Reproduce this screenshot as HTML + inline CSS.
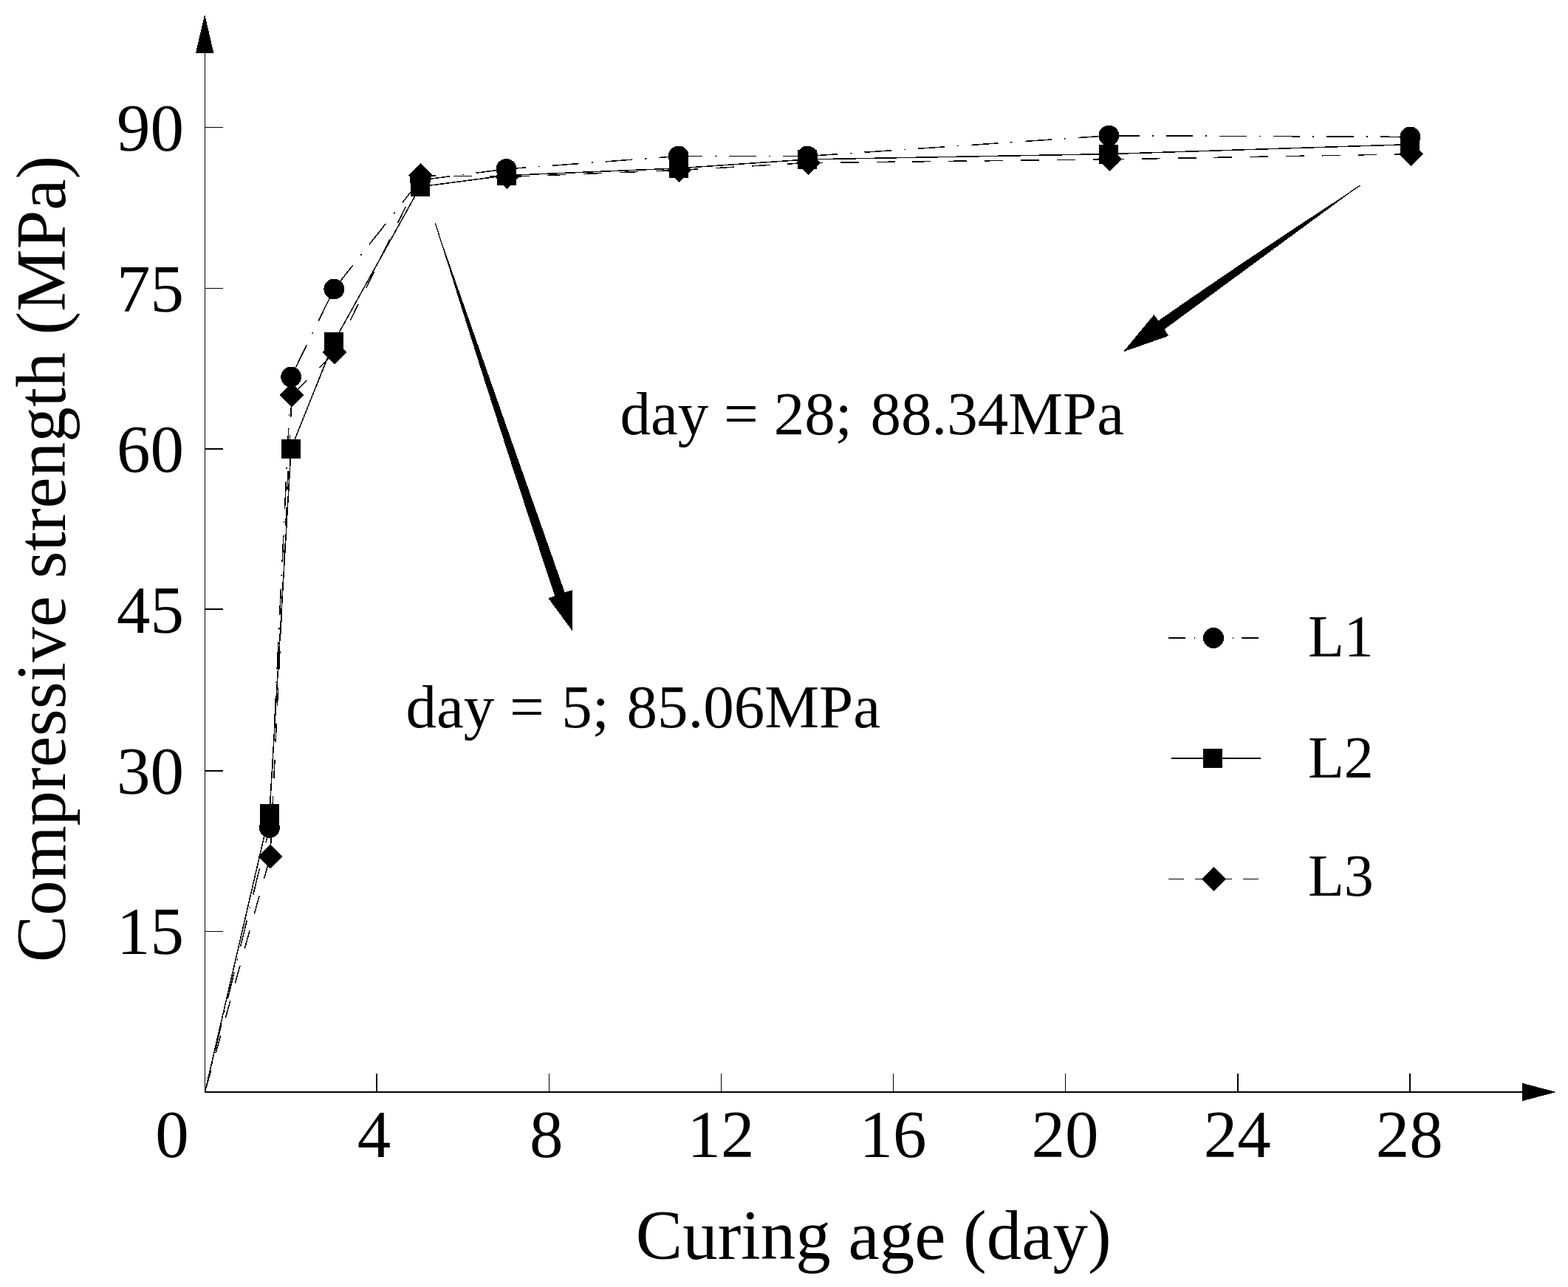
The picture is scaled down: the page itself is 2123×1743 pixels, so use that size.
<!DOCTYPE html>
<html lang="en"><head><meta charset="utf-8"><title>Compressive strength vs curing age</title>
<style>
html,body{margin:0;padding:0;background:#fff;}
body{width:2123px;height:1743px;overflow:hidden;}
svg{display:block;}
text{font-family:"Liberation Serif", "DejaVu Serif", serif;fill:#000;}
.tick{font-size:91px;}
.title{font-size:95px;}
.ann{font-size:83px;}
.leg{font-size:80px;}
.ln{fill:none;stroke:#000;stroke-width:1.55;}
.ax{stroke:#000;fill:none;}
</style></head><body>
<svg width="2123" height="1743" viewBox="0 0 2123 1743" shape-rendering="crispEdges">
<rect x="0" y="0" width="2123" height="1743" fill="#fff"/>
<g id="axes" fill="#000">
<rect x="277" y="72" width="1" height="1408"/>
<rect x="277" y="1478" width="1785" height="2"/>
<polygon points="277.2,19.3 265,72 289.4,72"/>
<polygon points="2107,1479 2061,1466.8 2061,1491.2"/>
<rect x="278" y="172" width="24" height="1"/>
<rect x="278" y="390" width="24" height="1"/>
<rect x="278" y="607" width="24" height="2"/>
<rect x="278" y="824" width="24" height="2"/>
<rect x="278" y="1043" width="24" height="2"/>
<rect x="278" y="1261" width="24" height="1"/>
<rect x="509" y="1454" width="2" height="24"/>
<rect x="743" y="1454" width="1" height="24"/>
<rect x="976" y="1454" width="1" height="24"/>
<rect x="1209" y="1454" width="1" height="24"/>
<rect x="1442" y="1454" width="1" height="24"/>
<rect x="1675" y="1454" width="2" height="24"/>
<rect x="1908" y="1454" width="2" height="24"/>
</g>
<g id="ticklabels" class="tick">
<text x="249" y="1292.3" text-anchor="end">15</text>
<text x="249" y="1074.6" text-anchor="end">30</text>
<text x="249" y="856.9" text-anchor="end">45</text>
<text x="249" y="639.2" text-anchor="end">60</text>
<text x="249" y="421.5" text-anchor="end">75</text>
<text x="249" y="203.8" text-anchor="end">90</text>
<text x="233" y="1566.5" text-anchor="middle">0</text>
<text x="506.6" y="1566.5" text-anchor="middle">4</text>
<text x="739.7" y="1566.5" text-anchor="middle">8</text>
<text x="975.9" y="1566.5" text-anchor="middle">12</text>
<text x="1209.0" y="1566.5" text-anchor="middle">16</text>
<text x="1442.1" y="1566.5" text-anchor="middle">20</text>
<text x="1675.2" y="1566.5" text-anchor="middle">24</text>
<text x="1908.3" y="1566.5" text-anchor="middle">28</text>
</g>
<g id="titles" class="title">
<text x="1182.7" y="1705" text-anchor="middle">Curing age (day)</text>
<text transform="translate(87.6,757) rotate(-90)" text-anchor="middle">Compressive strength (MPa)</text>
</g>
<g id="series">
<line class="ln" x1="277.5" y1="1479.0" x2="364.9" y2="1121.0" stroke-dasharray="36.4 17 2.3 16.8" stroke-dashoffset="14.6"/>
<line class="ln" x1="394.1" y1="510.5" x2="364.9" y2="1121.0" stroke-dasharray="36.4 17 2.3 16.8" stroke-dashoffset="3.1"/>
<line class="ln" x1="394.1" y1="510.5" x2="452.3" y2="391.5" stroke-dasharray="36.4 17 2.3 16.8" stroke-dashoffset="-11.8"/>
<line class="ln" x1="452.3" y1="391.5" x2="568.9" y2="244.0" stroke-dasharray="36.4 17 2.3 16.8" stroke-dashoffset="-4.4"/>
<line class="ln" x1="568.9" y1="244.0" x2="685.5" y2="228.9" stroke-dasharray="36.4 17 2.3 16.8" stroke-dashoffset="-3.8"/>
<line class="ln" x1="685.5" y1="228.9" x2="918.6" y2="211.5" stroke-dasharray="36.4 17 2.3 16.8" stroke-dashoffset="10.1"/>
<line class="ln" x1="918.6" y1="211.5" x2="1093.4" y2="211.5" stroke-dasharray="36.4 17 2.3 16.8" stroke-dashoffset="3.7"/>
<line class="ln" x1="1093.4" y1="211.5" x2="1501.4" y2="183.7" stroke-dasharray="36.4 17 2.3 16.8" stroke-dashoffset="-4.8"/>
<line class="ln" x1="1501.4" y1="183.7" x2="1909.3" y2="185.4" stroke-dasharray="36.4 17 2.3 16.8" stroke-dashoffset="-4.9"/>
<polyline class="ln" points="277.5,1479.0 364.9,1101.7 394.1,607.7 452.3,462.6 568.9,252.9 685.5,237.6 918.6,227.9 1093.4,215.9 1501.4,208.6 1909.3,195.6"/>
<line class="ln" x1="277.5" y1="1479.0" x2="365.9" y2="1159.8" stroke-dasharray="25 23.9" stroke-dashoffset="-6.0"/>
<line class="ln" x1="395.1" y1="535.2" x2="365.9" y2="1159.8" stroke-dasharray="25 23.9" stroke-dashoffset="-5.3"/>
<line class="ln" x1="395.1" y1="535.2" x2="453.3" y2="477.1" stroke-dasharray="25 23.9" stroke-dashoffset="-3.7"/>
<line class="ln" x1="453.3" y1="477.1" x2="569.9" y2="237.6" stroke-dasharray="25 23.9" stroke-dashoffset="1.3"/>
<line class="ln" x1="569.9" y1="237.6" x2="686.5" y2="239.5" stroke-dasharray="25 23.9" stroke-dashoffset="4.5"/>
<line class="ln" x1="686.5" y1="239.5" x2="919.6" y2="230.4" stroke-dasharray="25 23.9" stroke-dashoffset="-5.7"/>
<line class="ln" x1="919.6" y1="230.4" x2="1094.4" y2="220.5" stroke-dasharray="25 23.9" stroke-dashoffset="-0.3"/>
<line class="ln" x1="1094.4" y1="220.5" x2="1502.4" y2="215.9" stroke-dasharray="25 23.9" stroke-dashoffset="5.6"/>
<line class="ln" x1="1502.4" y1="215.9" x2="1910.3" y2="208.6" stroke-dasharray="25 23.9" stroke-dashoffset="5.6"/>
<circle cx="364.9" cy="1121.0" r="13.9" fill="#000"/>
<circle cx="394.1" cy="510.5" r="13.9" fill="#000"/>
<circle cx="452.3" cy="391.5" r="13.9" fill="#000"/>
<circle cx="568.9" cy="244.0" r="13.9" fill="#000"/>
<circle cx="685.5" cy="228.9" r="13.9" fill="#000"/>
<circle cx="918.6" cy="211.5" r="13.9" fill="#000"/>
<circle cx="1093.4" cy="211.5" r="13.9" fill="#000"/>
<circle cx="1501.4" cy="183.7" r="13.9" fill="#000"/>
<circle cx="1909.3" cy="185.4" r="13.9" fill="#000"/>
<rect x="351.9" y="1088.7" width="26" height="26" fill="#000"/>
<rect x="381.1" y="594.7" width="26" height="26" fill="#000"/>
<rect x="439.3" y="449.6" width="26" height="26" fill="#000"/>
<rect x="555.9" y="239.9" width="26" height="26" fill="#000"/>
<rect x="672.5" y="224.6" width="26" height="26" fill="#000"/>
<rect x="905.6" y="214.9" width="26" height="26" fill="#000"/>
<rect x="1080.4" y="202.9" width="26" height="26" fill="#000"/>
<rect x="1488.4" y="195.6" width="26" height="26" fill="#000"/>
<rect x="1896.3" y="182.6" width="26" height="26" fill="#000"/>
<polygon points="365.9,1143.3 382.4,1159.8 365.9,1176.3 349.4,1159.8" fill="#000"/>
<polygon points="395.1,518.7 411.6,535.2 395.1,551.7 378.6,535.2" fill="#000"/>
<polygon points="453.3,460.6 469.8,477.1 453.3,493.6 436.8,477.1" fill="#000"/>
<polygon points="569.9,221.1 586.4,237.6 569.9,254.1 553.4,237.6" fill="#000"/>
<polygon points="686.5,223.0 703.0,239.5 686.5,256.0 670.0,239.5" fill="#000"/>
<polygon points="919.6,213.9 936.1,230.4 919.6,246.9 903.1,230.4" fill="#000"/>
<polygon points="1094.4,204.0 1110.9,220.5 1094.4,237.0 1077.9,220.5" fill="#000"/>
<polygon points="1502.4,199.4 1518.9,215.9 1502.4,232.4 1485.9,215.9" fill="#000"/>
<polygon points="1910.3,192.1 1926.8,208.6 1910.3,225.1 1893.8,208.6" fill="#000"/>
</g>
<g id="annotations">
<path fill="#000" d="M1840.9,251.6 Q1703,340.5 1568.4,434.3 L1562.5,426.1 L1520.8,476.5 L1581.9,455 L1576.9,445.8 Z"/>
<line x1="1841.5" y1="251.2" x2="1700" y2="346.4" stroke="#000" stroke-width="1.3"/>
<path fill="#000" d="M589.4,302.8 Q667.4,555.8 751.2,807 L742.3,810.1 L774.6,854 L774.9,799.1 L764.6,802.2 Z"/>
<line x1="589.2" y1="302" x2="640" y2="460.5" stroke="#000" stroke-width="1.3"/>
<text class="ann" x="839.5" y="587.8">day = 28; <tspan dx="4">88.34MPa</tspan></text>
<text class="ann" x="549.5" y="984.6">day = <tspan dx="2.5">5; </tspan><tspan dx="3">85.06MPa</tspan></text>
</g>
<g id="legend">
<line class="ln" x1="1582" y1="864" x2="1704" y2="864" stroke-dasharray="23 12 1.2 50.8 1.2 10.8 23"/>
<circle cx="1643" cy="864" r="14" fill="#000"/>
<text class="leg" x="1771" y="889.2">L1</text>
<line class="ln" x1="1586" y1="1027" x2="1707" y2="1027"/>
<rect x="1629" y="1014" width="26" height="26" fill="#000"/>
<text class="leg" x="1771" y="1053.4">L2</text>
<line class="ln" x1="1582" y1="1190.5" x2="1704" y2="1190.5" stroke-dasharray="21 15 50 15 21"/>
<polygon points="1643.1,1174 1659.6,1190.5 1643.1,1207 1626.6,1190.5" fill="#000"/>
<text class="leg" x="1771" y="1212.5">L3</text>
</g>
</svg></body></html>
